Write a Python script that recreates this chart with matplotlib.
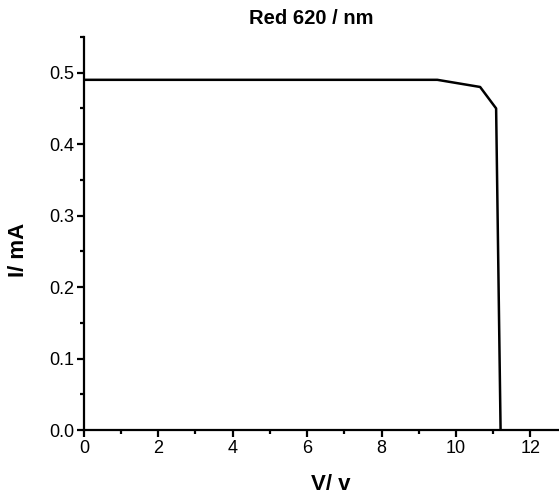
import numpy as np
import matplotlib.pyplot as plt
from matplotlib.ticker import MultipleLocator

plt.rcParams['font.family'] = ['Liberation Sans', 'DejaVu Sans']

# I-V curve, red LED 620 nm
voltage = [0, 9.5, 10.65, 11.08, 11.2]
current = [0.49, 0.49, 0.48, 0.45, 0.0]

fig = plt.figure(figsize=(5.59, 4.99), dpi=100)
ax = fig.add_axes([0.150, 0.138, 0.850, 0.788])

ax.plot(voltage, current, color='black', linewidth=1.8)

ax.set_xlim(0, 12.77)
ax.set_ylim(0, 0.55)
ax.xaxis.set_major_locator(MultipleLocator(2))
ax.xaxis.set_minor_locator(MultipleLocator(1))
ax.yaxis.set_major_locator(MultipleLocator(0.1))
ax.yaxis.set_minor_locator(MultipleLocator(0.05))
ax.yaxis.set_major_formatter(plt.FormatStrFormatter('%.1f'))

for side in ['top', 'right']:
    ax.spines[side].set_visible(False)
for side in ['left', 'bottom']:
    ax.spines[side].set_linewidth(1.6)

ax.tick_params(which='major', direction='out', length=5, width=1.6, labelsize=13, pad=2)
ax.tick_params(which='minor', direction='out', length=3, width=1.6)

fig.text(311 / 559, 1 - 19 / 499, 'Red 620 / nm', ha='center', va='center',
         fontsize=14.5, fontweight='bold')
fig.text(331 / 559, 1 - 485 / 499, 'V/ v', ha='center', va='center',
         fontsize=16, fontweight='bold')
fig.text(18 / 559, 1 - 250 / 499, 'I/ mA', ha='center', va='center',
         fontsize=16, fontweight='bold', rotation=90)

fig.savefig('out.png', dpi=100)
